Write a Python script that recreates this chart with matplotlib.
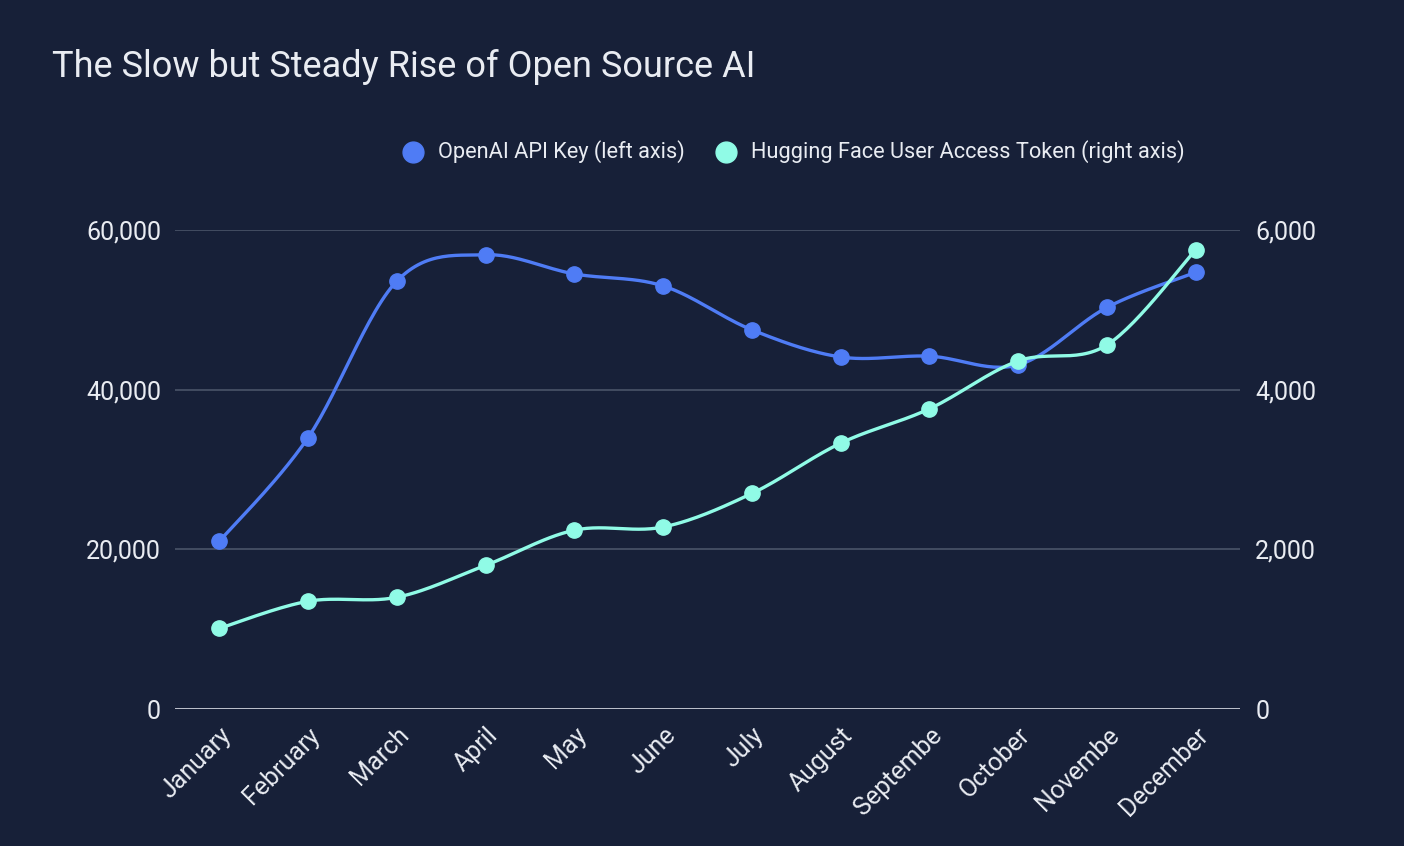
import matplotlib.pyplot as plt
import numpy as np

plt.rcParams['font.family'] = ['Roboto', 'DejaVu Sans']

months = ['January', 'February', 'March', 'April', 'May', 'June', 'July',
          'August', 'Septembe', 'October', 'Novembe', 'December']
openai_keys = [21000, 34000, 53600, 56900, 54500, 53000, 47500,
               44100, 44200, 43100, 50300, 54700]
hf_tokens = [1010, 1350, 1400, 1800, 2240, 2280, 2700,
             3330, 3760, 4360, 4560, 5750]

BG = '#172038'
BLUE = '#4f7cf5'
CYAN = '#90fbe6'
TEXT = '#e9ecf2'
GRID = '#4a5469'


def smooth(xs, ys, n=30, t=0.5):
    # cardinal spline through the points
    xs = np.asarray(xs, float)
    ys = np.asarray(ys, float)
    px = np.concatenate([[xs[0]], xs, [xs[-1]]])
    py = np.concatenate([[ys[0]], ys, [ys[-1]]])
    ox, oy = [], []
    for i in range(1, len(px) - 2):
        mx0 = (px[i + 1] - px[i - 1]) * t
        my0 = (py[i + 1] - py[i - 1]) * t
        mx1 = (px[i + 2] - px[i]) * t
        my1 = (py[i + 2] - py[i]) * t
        s = np.linspace(0, 1, n)
        h00 = 2 * s**3 - 3 * s**2 + 1
        h10 = s**3 - 2 * s**2 + s
        h01 = -2 * s**3 + 3 * s**2
        h11 = s**3 - s**2
        ox.extend(h00 * px[i] + h10 * mx0 + h01 * px[i + 1] + h11 * mx1)
        oy.extend(h00 * py[i] + h10 * my0 + h01 * py[i + 1] + h11 * my1)
    return np.array(ox), np.array(oy)


fig = plt.figure(figsize=(14.04, 8.46), dpi=100, facecolor=BG)
ax = fig.add_axes([0.1246, 0.1619, 0.7586, 0.5662])
ax.set_facecolor(BG)
ax2 = ax.twinx()

x = np.arange(len(months))

sx, sy = smooth(x, openai_keys)
ax.plot(sx, sy, color=BLUE, lw=2.4, zorder=3)
ax.plot(x, openai_keys, 'o', color=BLUE, ms=11, zorder=4)

hx, hy = smooth(x, hf_tokens)
ax2.plot(hx, hy, color=CYAN, lw=2.4, zorder=3)
ax2.plot(x, hf_tokens, 'o', color=CYAN, ms=11, zorder=4)

ax.set_xlim(-0.5, 11.5)
ax.set_ylim(0, 60000)
ax2.set_ylim(0, 6000)
ax.set_yticks([0, 20000, 40000, 60000])
ax2.set_yticks([0, 2000, 4000, 6000])
ax.set_yticklabels([f'{v:,}' for v in [0, 20000, 40000, 60000]])
ax2.set_yticklabels([f'{v:,}' for v in [0, 2000, 4000, 6000]])

ax.set_xticks(x)
ax.set_xticklabels(months, rotation=45, ha='right', rotation_mode='anchor')

for a in (ax, ax2):
    for sp in a.spines.values():
        sp.set_visible(False)
    a.tick_params(length=0, colors=TEXT, labelsize=18)
ax.tick_params(axis='y', pad=10)
ax2.tick_params(axis='y', pad=11)
ax.tick_params(axis='x', pad=10)

ax.grid(axis='y', color=GRID, lw=1.2)
ax.axhline(0, color='#c9cdd6', lw=2, zorder=2)
ax.set_axisbelow(True)

fig.text(0.037, 0.921, 'The Slow but Steady Rise of Open Source AI',
         color=TEXT, fontsize=26, va='center', ha='left')

fig.lines.append(plt.Line2D([413 / 1404], [1 - 152 / 846], marker='o', color=BLUE,
                            ms=15, transform=fig.transFigure))
fig.text(438 / 1404, 1 - 152 / 846, 'OpenAI API Key (left axis)', color=TEXT,
         fontsize=15.7, va='center', ha='left')
fig.lines.append(plt.Line2D([726 / 1404], [1 - 152 / 846], marker='o', color=CYAN,
                            ms=15, transform=fig.transFigure))
fig.text(751 / 1404, 1 - 152 / 846, 'Hugging Face User Access Token (right axis)',
         color=TEXT, fontsize=15.7, va='center', ha='left')

fig.savefig('out.png', dpi=100, facecolor=BG)
